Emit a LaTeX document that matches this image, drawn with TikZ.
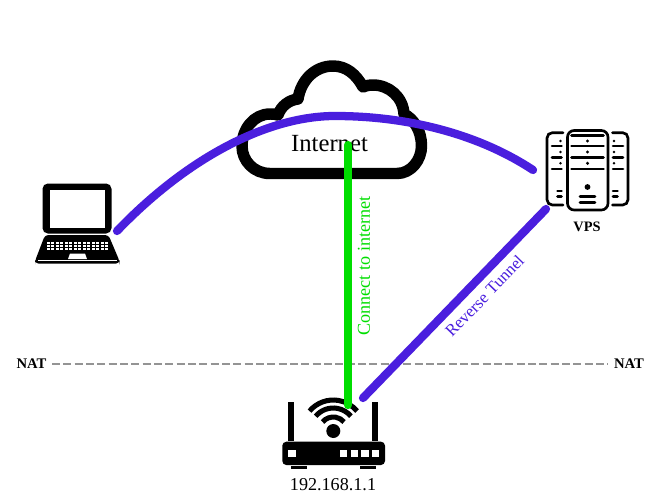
\documentclass[tikz,border=0pt]{standalone}
\usepackage{fontspec}
\setmainfont{Liberation Serif}
\definecolor{tunnel}{HTML}{4A1EDE}
\definecolor{uplink}{HTML}{00DE00}
\begin{document}
\begin{tikzpicture}[x=0.75pt,y=-0.75pt,
        icon/.style={fill=black,draw=none},
        hole/.style={fill=white,draw=none},
        cloudline/.style={draw=black,line width=8.6pt,line join=round},
        rackline/.style={draw=black,line width=2pt,line cap=round},
        rackdot/.style={fill=black,draw=none},
        link/.style={line width=6.2pt,line cap=round},
        label/.style={inner sep=0pt,font=\fontsize{13.6}{15}\selectfont},
        natlabel/.style={inner sep=4pt,font=\fontsize{11}{13}\selectfont\bfseries}]
      \useasboundingbox (0,0) rectangle (666,500);
      % cloud
      \draw[cloudline] (270,173.5) -- (397,173.5)
        .. controls (411,173.5) and (421.5,160) .. (421.5,146)
        .. controls (421.5,131) and (414,119) .. (404,114)
        .. controls (403,97) and (389,85) .. (373,85)
        .. controls (370,85) and (366,85.5) .. (363,87)
        .. controls (356,74) and (346,66) .. (333,66)
        .. controls (315,66) and (301,80) .. (298,99)
        .. controls (289,100) and (281,106) .. (278,115)
        .. controls (275,114) and (272,114) .. (270,114)
        .. controls (254,114) and (242,129) .. (242,146)
        .. controls (242,161) and (254,173.5) .. (270,173.5) -- cycle;
      \node[label,font=\fontsize{18.5}{20}\selectfont] (internet) at (329.5,143.5) {Internet};
      % laptop
      \fill[icon,rounded corners=4pt] (42.5,183.5) rectangle (111.5,233.5);
      \fill[hole] (49.5,190) rectangle (105,227.5);
      \fill[icon,rounded corners=2.5pt] (45,235) -- (108.5,235) -- (119.5,261) -- (119.5,263.5)
        -- (35,263.5) -- (35,261) -- cycle;
      \foreach \row in {0,1,2}
        \foreach \key in {0,...,13}
          \fill[hole] ({46.5+\key*4.5},{241.5+\row*3}) rectangle +(3.4,2.1);
      \fill[hole] (70,253.5) -- (85,253.5) -- (87,259) -- (68,259) -- cycle;
      \fill[hole] (38,259.5) rectangle (116.5,261.3);
      % server rack
      \draw[rackline,rounded corners=5pt] (567.5,130.5) rectangle (608,210);
      \draw[rackline,rounded corners=4pt] (563,132.7) -- (547,132.7) -- (547,205) -- (563,205);
      \draw[rackline,rounded corners=4pt] (612.5,132.7) -- (628,132.7) -- (628,205) -- (612.5,205);
      \foreach \y in {135.3,146,157.7,169}
        \draw[rackline] (571.5,\y) -- (603.5,\y);
      \foreach \y in {146,157.7,169} {
        \draw[rackline] (552,\y) -- (561.5,\y);
        \draw[rackline] (613,\y) -- (623,\y);
      }
      \foreach \y in {141,152,163.3} {
        \fill[rackdot] (587.5,\y) circle (1.7);
        \fill[rackdot] (560.5,\y) circle (1.4);
        \fill[rackdot] (614,\y) circle (1.4);
      }
      \fill[rackdot] (587.5,187) circle (2.9);
      \foreach \y in {196.7,202.7}
        \draw[rackline] (580,\y) -- (595,\y);
      \foreach \y in {191,196.7} {
        \draw[rackline] (557.5,\y) -- (561.5,\y);
        \draw[rackline] (613,\y) -- (617.5,\y);
      }
      \node[label,font=\fontsize{10.8}{12}\selectfont\bfseries] (vps) at (587,226.5) {VPS};
      % router
      \fill[icon] (288.3,401.7) rectangle (294.3,440.7);
      \fill[icon] (372.3,401.7) rectangle (378.3,440.7);
      \fill[icon,rounded corners=3pt] (282.3,441.7) rectangle (385,465);
      \fill[icon] (290.7,466) rectangle (307.3,468.5);
      \fill[icon] (360,466) rectangle (376,468.5);
      \fill[hole] (288.3,450) rectangle +(7.4,6.7);
      \foreach \led in {340,350.6,361.2,371.7}
        \fill[hole] (\led,450) rectangle +(7.4,6.7);
      \fill[icon] (333.3,431) circle (7);
      \foreach \r in {14,23,31}
        \draw[line width=3.8pt] (333.3,431) ++(-140:\r) arc[start angle=-140,end angle=-40,radius=\r];
      \node[label] (routerip) at (333,484.5) {192.168.1.1};
      % anchors for the links
      \coordinate (laptopport) at (117,231);
      \coordinate (arctop) at (335,116);
      \coordinate (vpsleft) at (533,170);
      \coordinate (vpsdown) at (546,209);
      \coordinate (routerwan) at (363,398);
      \coordinate (routerup) at (348,405);
      \coordinate (cloudin) at (348,145);
      % NAT boundary
      \node[natlabel] (natleft) at (31.5,364) {NAT};
      \node[natlabel] (natright) at (629,364) {NAT};
      \draw[color=black!42,line width=1.2pt,dash pattern=on 6pt off 2.5pt] (natleft) -- (natright);
      % tunnel and uplink
      \draw[link,tunnel] (laptopport) .. controls (190,155) and (270,116) .. (arctop)
        .. controls (410,116) and (480,135) .. (vpsleft);
      \draw[link,tunnel] (vpsdown) -- (routerwan);
      \draw[link,uplink] (cloudin) -- (routerup);
      \node[label,text=uplink,rotate=90] (uplinklabel) at (364,266) {Connect to internet};
      \node[label,text=tunnel,rotate=46,font=\fontsize{12.6}{14}\selectfont] (tunnellabel) at (484.5,296) {Reverse Tunnel};
    \end{tikzpicture}
\end{document}
